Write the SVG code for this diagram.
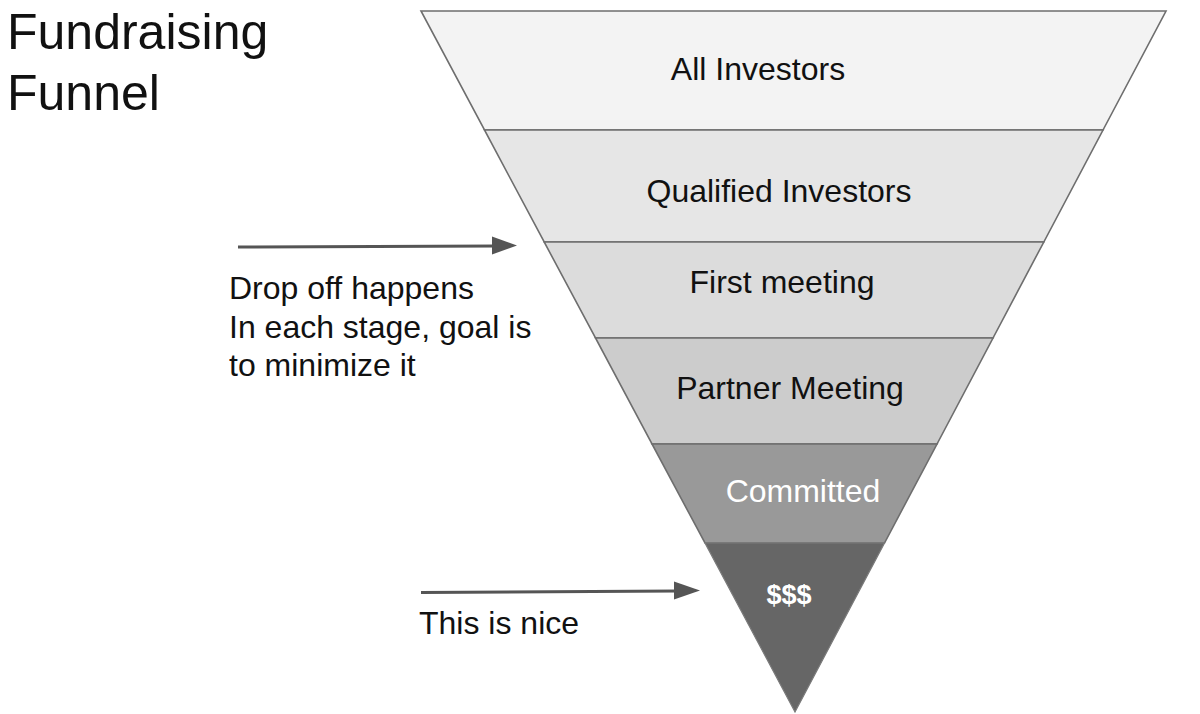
<svg xmlns="http://www.w3.org/2000/svg" width="1200" height="714" viewBox="0 0 1200 714">
  <style>
    text { font-family: "Liberation Sans", Arial, sans-serif; }
    .band { stroke: #6e6e6e; stroke-width: 1.6; stroke-linejoin: miter; }
    .lbl { font-size: 32px; fill: #111; text-anchor: middle; }
    .lblw { font-size: 32px; fill: #ffffff; text-anchor: middle; }
    .note { font-size: 32px; fill: #111; }
    .title { font-size: 50px; fill: #111; }
    .arrow { stroke: #555555; stroke-width: 3; fill: none; }
    .head { fill: #555555; }
  </style>
  <rect width="1200" height="714" fill="#ffffff"/>

  <g id="title">
    <text class="title" x="7" y="49">Fundraising</text>
    <text class="title" x="7" y="110">Funnel</text>
  </g>

  <g id="stage-all-investors">
    <polygon class="band" fill="#f3f3f3" points="421,11 1166,11 1103,130 484.5,130"/>
    <text class="lbl" x="758" y="80">All Investors</text>
  </g>
  <g id="stage-qualified-investors">
    <polygon class="band" fill="#e6e6e6" points="484.5,130 1103,130 1043.8,242 544.2,242"/>
    <text class="lbl" x="779" y="202">Qualified Investors</text>
  </g>
  <g id="stage-first-meeting">
    <polygon class="band" fill="#dcdcdc" points="544.2,242 1043.8,242 993,338 595.5,338"/>
    <text class="lbl" x="782" y="293">First meeting</text>
  </g>
  <g id="stage-partner-meeting">
    <polygon class="band" fill="#cccccc" points="595.5,338 993,338 937,444 652,444"/>
    <text class="lbl" x="790" y="399">Partner Meeting</text>
  </g>
  <g id="stage-committed">
    <polygon class="band" fill="#999999" points="652,444 937,444 884.5,543 705,543"/>
    <text class="lblw" x="803" y="502">Committed</text>
  </g>
  <g id="stage-money">
    <polygon fill="#666666" stroke="#7a7a7a" stroke-width="1.2" points="705,543 884.5,543 795,712"/>
    <text class="lblw" x="789" y="604" style="font-weight:bold;font-size:27px">$$$</text>
  </g>

  <g id="connectors">
    <line class="arrow" x1="238" y1="247" x2="496" y2="246"/>
    <polygon class="head" points="517,245.5 492,236.5 492,254.5"/>
    <line class="arrow" x1="421" y1="592.5" x2="677" y2="591"/>
    <polygon class="head" points="700,590.5 674,581.5 674,599.5"/>
  </g>

  <g id="notes">
    <text class="note" x="229" y="299">Drop off happens</text>
    <text class="note" x="229" y="338">In each stage, goal is</text>
    <text class="note" x="229" y="376">to minimize it</text>
    <text class="note" x="419" y="634">This is nice</text>
  </g>
</svg>
